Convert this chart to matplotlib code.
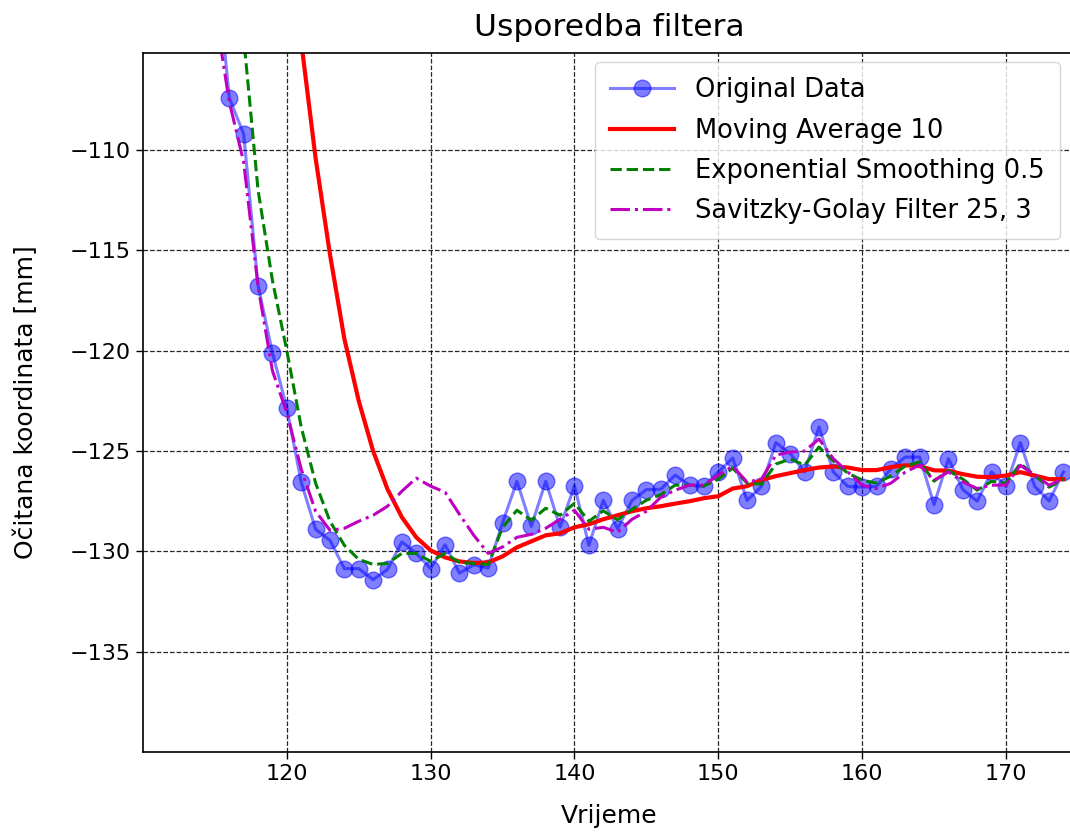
import matplotlib
matplotlib.use("Agg")
import matplotlib.pyplot as plt

# ---- data ----
orig_x = list(range(115, 175))
orig_y = [-100.0,
          -107.4, -109.2, -116.75, -120.1, -122.85, -126.55, -128.9, -129.45, -130.86, -130.86,
          -131.41, -130.9, -129.53, -130.1, -130.86, -129.67, -131.08, -130.67, -130.83, -128.57,
          -126.51, -128.75, -126.51, -128.79, -126.73, -129.7, -127.46, -128.87, -127.46, -126.92,
          -126.9, -126.2, -126.7, -126.76, -126.04, -125.35, -127.46, -126.76, -124.58, -125.13,
          -126.04, -123.8, -126.04, -126.76, -126.8, -126.76, -125.88, -125.3, -125.3, -127.67,
          -125.38, -126.92, -127.5, -126.04, -126.76, -124.58, -126.76, -127.49, -126.04]

ma_x = list(range(120, 175))
ma_y = [-98.5, -104.6, -110.4, -115.2, -119.4, -122.5, -125.0, -126.9, -128.3, -129.3,
        -129.95, -130.3, -130.5, -130.58, -130.55, -130.25, -129.8, -129.5, -129.2, -129.1,
        -128.8, -128.65, -128.4, -128.2, -128.0, -127.85, -127.75, -127.62, -127.5, -127.35,
        -127.25, -126.87, -126.75, -126.45, -126.25, -126.1, -125.95, -125.82, -125.77, -125.82,
        -125.95, -125.95, -125.8, -125.71, -125.75, -125.96, -125.98, -126.15, -126.28, -126.3,
        -126.22, -126.05, -126.22, -126.4, -126.4]

es_x = list(range(116, 175))
es_y = [-99.6, -104.4, -112.0, -116.5, -120.0, -123.8, -126.6, -128.5, -129.7, -130.4,
        -130.65, -130.6, -130.1, -130.1, -130.5, -130.1, -130.55, -130.6, -130.65, -128.8,
        -127.95, -128.45, -127.85, -128.2, -127.6, -128.5, -127.98, -128.43, -127.9, -127.45,
        -127.17, -126.7, -126.7, -126.74, -126.4, -125.85, -126.6, -126.65, -125.65, -125.4,
        -125.7, -124.8, -125.5, -126.1, -126.45, -126.6, -126.24, -125.75, -125.54, -126.5,
        -125.98, -126.4, -126.95, -126.51, -126.6, -125.62, -126.22, -126.8, -126.4]

sg_x = list(range(115, 175))
sg_y = [-103.0,
        -107.6, -110.6, -116.8, -121.0, -123.1, -125.9, -128.0, -128.95, -128.85, -128.5,
        -128.2, -127.75, -127.0, -126.35, -126.75, -127.05, -128.15, -129.2, -130.1, -129.78,
        -129.3, -129.15, -128.85, -128.4, -127.95, -128.9, -128.8, -129.05, -128.4, -128.0,
        -127.3, -126.95, -126.7, -126.7, -126.2, -125.75, -126.55, -126.4, -125.2, -125.05,
        -125.0, -124.4, -125.38, -126.04, -126.7, -126.87, -126.6, -126.05, -125.7, -126.46,
        -126.04, -126.54, -126.87, -126.7, -126.7, -125.71, -126.2, -126.7, -126.37]

labels = ["Original Data", "Moving Average 10", "Exponential Smoothing 0.5",
          "Savitzky-Golay Filter 25, 3"]
xticks = [120, 130, 140, 150, 160, 170]
yticks = [-135, -130, -125, -120, -115, -110]

# ---- figure ----
W, H = 1070, 836
fig = plt.figure(figsize=(W / 100, H / 100), dpi=100)
ax_left, ax_right, ax_top, ax_bottom = 143, 1075, 53, 752
ax = fig.add_axes([ax_left / W, 1 - ax_bottom / H, (ax_right - ax_left) / W,
                   (ax_bottom - ax_top) / H])

ax.plot(orig_x, orig_y, 'o-', color='blue', alpha=0.5, markersize=12, linewidth=2.2,
        label=labels[0])
ax.plot(ma_x, ma_y, '-', color='red', linewidth=3.0, label=labels[1])
ax.plot(es_x, es_y, '--', color='green', linewidth=2.2, label=labels[2])
ax.plot(sg_x, sg_y, '-.', color='m', linewidth=2.2, label=labels[3])

ax.set_xlim(110, 174.8)
ax.set_ylim(-140, -105.16)
ax.set_xticks(xticks)
ax.set_yticks(yticks)
ax.tick_params(labelsize=16, length=5, width=1)
for s in ax.spines.values():
    s.set_linewidth(1.2)

ax.grid(True, linestyle='--', color='black', linewidth=0.9, alpha=0.85)

axw = ax_right - ax_left
axh = ax_bottom - ax_top
ax.set_xlabel("Vrijeme", fontsize=18)
ax.xaxis.set_label_coords(0.5, -(804 - ax_bottom) / axh)
ax.set_ylabel("Očitana koordinata [mm]", fontsize=18)
ax.yaxis.set_label_coords(-(ax_left - 38) / axw, 0.5)
ax.set_title("Usporedba filtera", fontsize=22.5, pad=12)

ax.legend(loc='upper right', bbox_to_anchor=(1060 / W, 1 - 62 / H),
          bbox_transform=fig.transFigure, borderaxespad=0, fontsize=18.5,
          handlelength=2.5, borderpad=0.6, labelspacing=0.55)

fig.savefig("out.png", dpi=100)
